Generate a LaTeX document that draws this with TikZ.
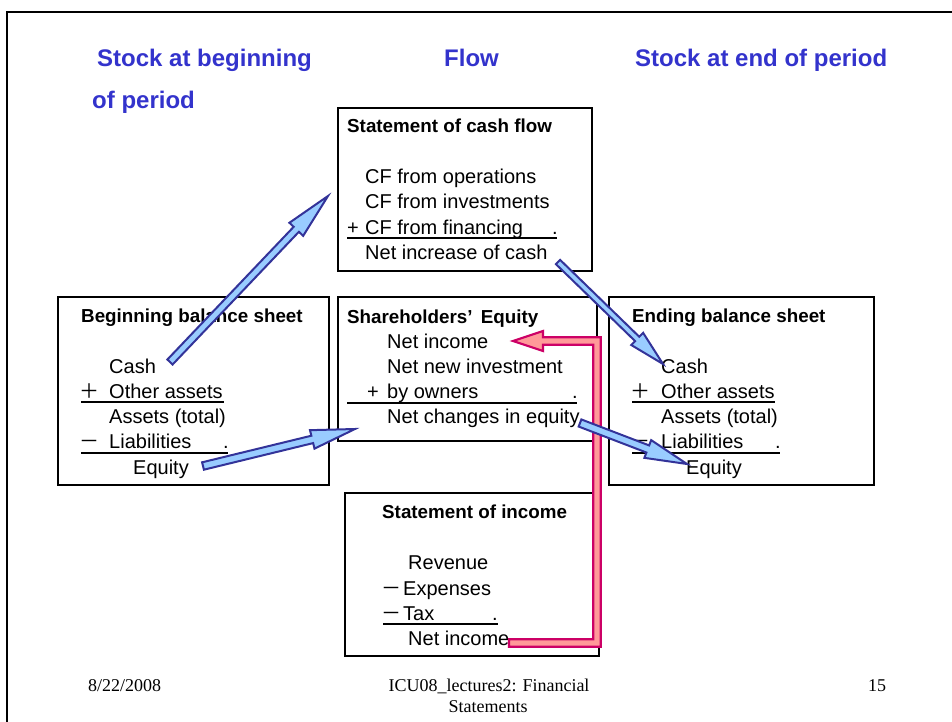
\documentclass[tikz,border=0pt]{standalone}
\usepackage{fontspec}
\setmainfont{Liberation Sans}
\newfontfamily\cjk{Noto Sans CJK JP}
\newfontfamily\serifx{Liberation Serif}
\usetikzlibrary{calc}
\definecolor{titleblue}{RGB}{51,51,204}
\definecolor{arrowline}{RGB}{51,51,153}
\definecolor{arrowfill}{RGB}{153,204,255}
\definecolor{pinkline}{RGB}{204,0,102}
\definecolor{pinkfill}{RGB}{255,153,153}
\tikzset{
 frameline/.style={line width=2.4pt, black},
 box/.style={draw=black, line width=1.6pt, inner sep=0, anchor=north west},
 txt/.style={anchor=base west, inner sep=0, font=\fontsize{20}{24}\selectfont},
 hd/.style={anchor=base west, inner sep=0, font=\fontsize{18.8}{23}\selectfont\bfseries},
 ttl/.style={anchor=base west, inner sep=0, text=titleblue, font=\fontsize{24}{28}\selectfont\bfseries},
 foot/.style={inner sep=0, font=\serifx\fontsize{18}{21}\selectfont, anchor=base},
 uline/.style={line width=1.3pt},
 barrow/.style={draw=arrowline, fill=arrowfill, line width=2pt, line join=miter},
 parrow/.style={draw=pinkline, fill=pinkfill, line width=2.2pt, line join=miter},
}
\newcommand\blockarrow[5]{%
 \coordinate (ba-base) at ($(#2)!#5!(#1)$);
 \draw[barrow] ($(#1)!#3!90:(#2)$) -- ($(ba-base)!#3!90:(#2)$) -- ($(ba-base)!#4!90:(#2)$) -- (#2) -- ($(ba-base)!#4!-90:(#2)$) -- ($(ba-base)!#3!-90:(#2)$) -- ($(#1)!#3!-90:(#2)$) -- cycle;
}
\begin{document}
\begin{tikzpicture}[x=1pt,y=-1pt]
\useasboundingbox (0,0) rectangle (952,722);
\draw[frameline] (960,12) -- (7,12) -- (7,730);

% titles
\node[ttl] (t1) at (97,67) {Stock at beginning};
\node[ttl] (t2) at (92,109) {of period};
\node[ttl] (t3) at (444,67) {Flow};
\node[ttl] (t4) at (635,67) {Stock at end of period};

% boxes
\node[box, minimum width=254pt, minimum height=163pt] (cf) at (337,107) {};
\node[box, minimum width=271pt, minimum height=188pt] (bb) at (57,296) {};
\node[box, minimum width=259pt, minimum height=144pt] (se) at (337,296) {};
\node[box, minimum width=265pt, minimum height=188pt] (eb) at (608,296) {};
\node[box, minimum width=254pt, minimum height=163pt] (is) at (344,492) {};

% cash flow statement
\node[hd] (cfh) at (347,133) {Statement of cash flow};
\node[txt] (cf1) at (365,183) {CF from operations};
\node[txt] (cf2) at (365,208) {CF from investments};
\node[txt] (cf3p) at (347,234) {+};
\node[txt] (cf3) at (365,234) {CF from financing};
\node[txt] (cf3d) at (552,234) {.};
\node[txt] (cf4) at (365,259) {Net increase of cash};
\draw[uline] (347,238) -- (557,238);

% beginning balance sheet
\node[hd] (bbh) at (81,322) {Beginning balance sheet};
\node[txt] (bb1) at (109,373) {Cash};
\node[txt] (bb2p) at (79,398) {\cjk ＋};
\node[txt] (bb2) at (109,398) {Other assets};
\draw[uline] (81,402) -- (224,402);
\node[txt] (bb3) at (109,423) {Assets (total)};
\node[txt] (bb4p) at (79,448) {\cjk －};
\node[txt] (bb4) at (109,448) {Liabilities};
\node[txt] (bb4d) at (223,448) {.};
\draw[uline] (81,453) -- (228,453);
\node[txt] (bb5) at (133,474) {Equity};

% shareholders' equity
\node[hd] (seh) at (347,323) {Shareholders’\, Equity};
\node[txt] (se1) at (387,348) {Net income};
\node[txt] (se2) at (387,373) {Net new investment};
\node[txt] (se3p) at (367,398) {+};
\node[txt] (se3) at (387,398) {by owners};
\node[txt] (se3d) at (572,398) {.};
\draw[uline] (347,403) -- (577,403);
\node[txt] (se4) at (387,423) {Net changes in equity};

% ending balance sheet
\node[hd] (ebh) at (632,322) {Ending balance sheet};
\node[txt] (eb1) at (661,373) {Cash};
\node[txt] (eb2p) at (630,398) {\cjk ＋};
\node[txt] (eb2) at (661,398) {Other assets};
\draw[uline] (632,402) -- (775,402);
\node[txt] (eb3) at (661,423) {Assets (total)};
\node[txt] (eb4p) at (630,448) {\cjk －};
\node[txt] (eb4) at (661,448) {Liabilities};
\node[txt] (eb4d) at (775,448) {.};
\draw[uline] (632,453) -- (780,453);
\node[txt] (eb5) at (686,474) {Equity};

% income statement
\node[hd] (ish) at (382,518) {Statement of income};
\node[txt] (is1) at (408,569) {Revenue};
\node[txt] (is2p) at (381,595) {\cjk －};
\node[txt] (is2) at (403,595) {Expenses};
\node[txt] (is3p) at (381,620) {\cjk －};
\node[txt] (is3) at (403,620) {Tax};
\node[txt] (is3d) at (492,620) {.};
\draw[uline] (383,624) -- (498,624);
\node[txt] (is4) at (408,645) {Net income};

% footer
\node[foot, anchor=base west] (f1) at (88,691) {8/22/2008};
\node[foot] (f2) at (489,691) {ICU08\_lectures2: Financial};
\node[foot] (f3) at (488,712) {Statements};
\node[foot, anchor=base west] (f4) at (868,691) {15};

% pink elbow arrow: income statement net income -> equity net income
\coordinate (pstart) at (509,643);
\coordinate (ptip) at (513,341);
\draw[parrow] (pstart) ++(0,3.8) -- (600.8,646.8) -- (600.8,337.2) -- (543,337.2) -- (543,331) -- (ptip) -- (543,351) -- (543,344.8) -- (593.2,344.8) -- (593.2,639.2) -- (509,639.2) -- cycle;

% blue arrows
\coordinate (a1s) at (170,362);
\coordinate (a1e) at (328,196);
\coordinate (a2s) at (203,466);
\coordinate (a2e) at (355,429);
\coordinate (a3s) at (558,262);
\coordinate (a3e) at (663,364);
\coordinate (a4s) at (580,423);
\coordinate (a4e) at (687,464);
\blockarrow{a1s}{a1e}{3.6pt}{9.5pt}{46pt}
\blockarrow{a2s}{a2e}{3.8pt}{9.5pt}{44pt}
\blockarrow{a3s}{a3e}{3pt}{8.5pt}{36pt}
\blockarrow{a4s}{a4e}{3.8pt}{9.5pt}{42pt}
\end{tikzpicture}
\end{document}
